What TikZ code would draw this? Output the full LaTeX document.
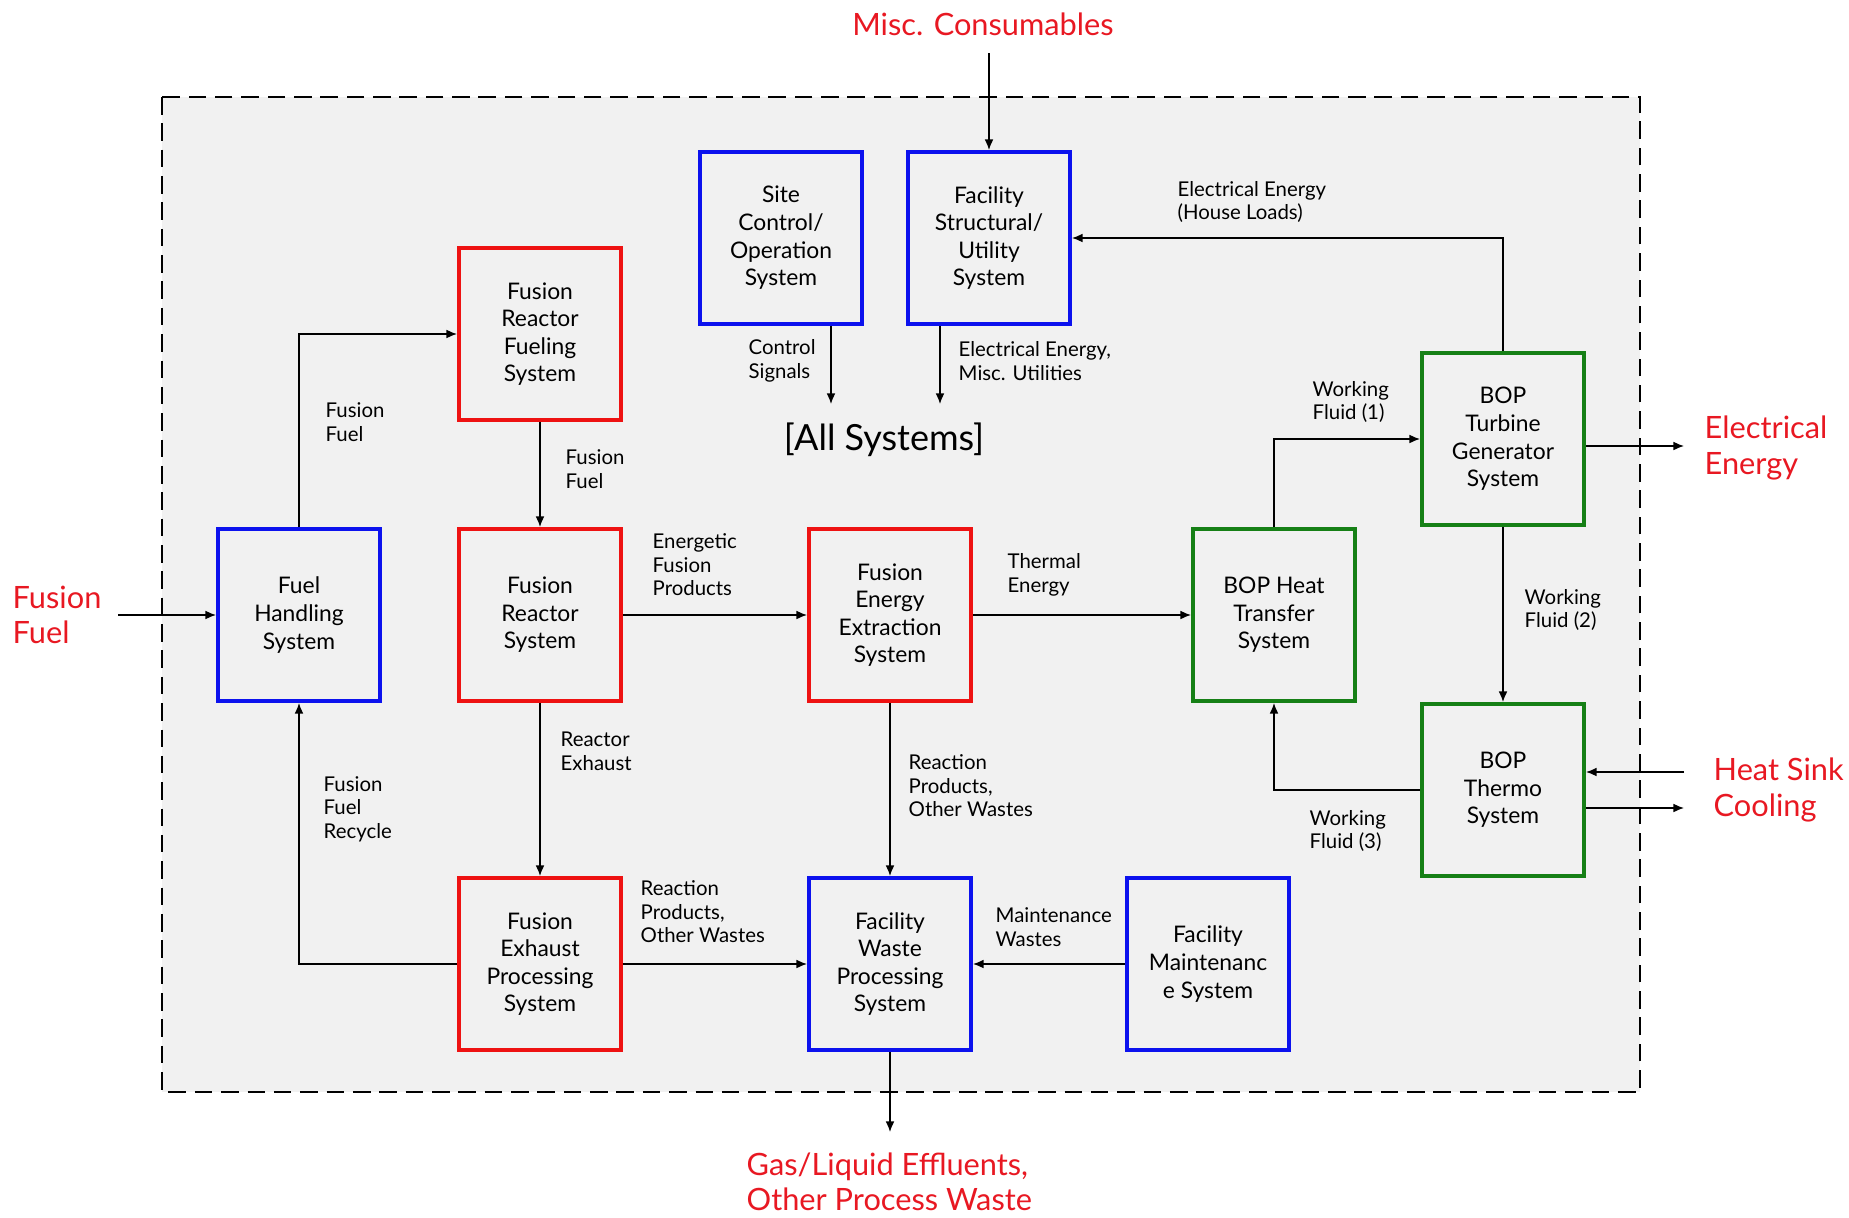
\documentclass[tikz,border=0pt]{standalone}
\usepackage{fontspec}
\setmainfont{Lato}
\usepackage{tikz}
\usetikzlibrary{arrows.meta}

\definecolor{sysred}{RGB}{238,18,18}
\definecolor{sysblue}{RGB}{12,18,238}
\definecolor{sysgreen}{RGB}{22,128,22}
\definecolor{extred}{RGB}{232,24,34}
\definecolor{bggray}{RGB}{241,241,241}

\begin{document}
\begin{tikzpicture}[x=0.02cm,y=-0.02cm,->,>={Latex[length=6pt,width=5pt]},line width=0.8pt,
                    sys box/.style={rectangle,draw,line width=2pt,minimum width=3.25cm,minimum height=3.45cm,
                                    align=center,inner sep=2pt,font=\fontsize{13}{15.7}\selectfont},
                    red sys/.style={sys box,draw=sysred},
                    blue sys/.style={sys box,draw=sysblue},
                    green sys/.style={sys box,draw=sysgreen},
                    lbl/.style={anchor=west,align=left,inner xsep=0pt,font=\fontsize{11.6}{13.4}\selectfont},
                    ext/.style={anchor=west,align=left,inner xsep=0pt,text=extred,font=\fontsize{17.5}{20.2}\selectfont}]

  \useasboundingbox (0,0) rectangle (1849,1217);
  \draw[-,dashed,dash pattern=on 10pt off 5pt,line width=1.2pt,fill=bggray] (162,97) rectangle (1640,1092);

  % systems
  \node[blue sys] (sco) at (781,238) {Site\\Control/\\Operation\\System};
  \node[blue sys] (fsu) at (989,238) {Facility\\Structural/\\Utility\\System};
  \node[red sys] (frf) at (540,334) {Fusion\\Reactor\\Fueling\\System};
  \node[blue sys] (fh) at (299,615) {Fuel\\Handling\\System};
  \node[red sys] (fr) at (540,615) {Fusion\\Reactor\\System};
  \node[red sys] (fee) at (890,615) {Fusion\\Energy\\Extraction\\System};
  \node[green sys] (ht) at (1274,615) {BOP Heat\\Transfer\\System};
  \node[green sys] (tg) at (1503,439) {BOP\\Turbine\\Generator\\System};
  \node[green sys] (th) at (1503,790) {BOP\\Thermo\\System};
  \node[red sys] (fe) at (540,964) {Fusion\\Exhaust\\Processing\\System};
  \node[blue sys] (wp) at (890,964) {Facility\\Waste\\Processing\\System};
  \node[blue sys] (fm) at (1208,964) {Facility\\Maintenanc\\e System};

  \node[font=\fontsize{20.5}{24}\selectfont] (allsys) at (884,440) {[All Systems]};

  % outside
  \node[ext,anchor=center] (misc) at (983,24) {Misc. Consumables};
  \node[ext] (eleco) at (1704,448) {Electrical\\Energy};
  \node[ext] (hsink) at (1713,790) {Heat Sink\\Cooling};
  \node[ext] (ffin) at (12,615) {Fusion\\Fuel};
  \node[ext] (gasw) at (746,1182) {Gas/Liquid Effluents,\\Other Process Waste};

  \coordinate (miscend) at (989,53);
  \coordinate (csig) at (831,404);
  \coordinate (eutil) at (940,404);
  \coordinate (fuelin) at (118,615);
  \coordinate (eout) at (1684,446);
  \coordinate (hsin) at (1684,772);
  \coordinate (hsout) at (1684,808);
  \coordinate (gout) at (890,1132);

  % flows
  \draw (miscend) -- (fsu);
  \draw (csig |- sco.south) -- (csig);
  \draw (eutil |- fsu.south) -- (eutil);
  \draw (tg) |- (fsu);
  \draw (fuelin) -- (fh);
  \draw (fh) |- (frf);
  \draw (frf) -- (fr);
  \draw (fr) -- (fee);
  \draw (fee) -- (ht);
  \draw (ht) |- (tg);
  \draw (tg.east |- eout) -- (eout);
  \draw (tg) -- (th);
  \draw (th) -| (ht);
  \draw (hsin) -- (hsin -| th.east);
  \draw (hsout -| th.east) -- (hsout);
  \draw (fr) -- (fe);
  \draw (fe) -| (fh);
  \draw (fe) -- (wp);
  \draw (fee) -- (wp);
  \draw (fm) -- (wp);
  \draw (wp) -- (gout);

  % flow labels
  \node[lbl] (l-csig) at (748,361) {Control\\Signals};
  \node[lbl] (l-eutil) at (958,361) {Electrical Energy,\\Misc. Utilities};
  \node[lbl] (l-house) at (1177,202) {Electrical Energy\\(House Loads)};
  \node[lbl] (l-ff1) at (325,422) {Fusion\\Fuel};
  \node[lbl] (l-ff2) at (565,469) {Fusion\\Fuel};
  \node[lbl] (l-efp) at (652,565) {Energetic\\Fusion\\Products};
  \node[lbl] (l-te) at (1007,575) {Thermal\\Energy};
  \node[lbl] (l-wf1) at (1312,402) {Working\\Fluid (1)};
  \node[lbl] (l-wf2) at (1524,610) {Working\\Fluid (2)};
  \node[lbl] (l-wf3) at (1309,831) {Working\\Fluid (3)};
  \node[lbl] (l-rex) at (560,751) {Reactor\\Exhaust};
  \node[lbl] (l-ffr) at (323,809) {Fusion\\Fuel\\Recycle};
  \node[lbl] (l-rp1) at (640,912) {Reaction\\Products,\\Other Wastes};
  \node[lbl] (l-rp2) at (908,786) {Reaction\\Products,\\Other Wastes};
  \node[lbl] (l-mw) at (995,927) {Maintenance\\Wastes};
\end{tikzpicture}
\end{document}
